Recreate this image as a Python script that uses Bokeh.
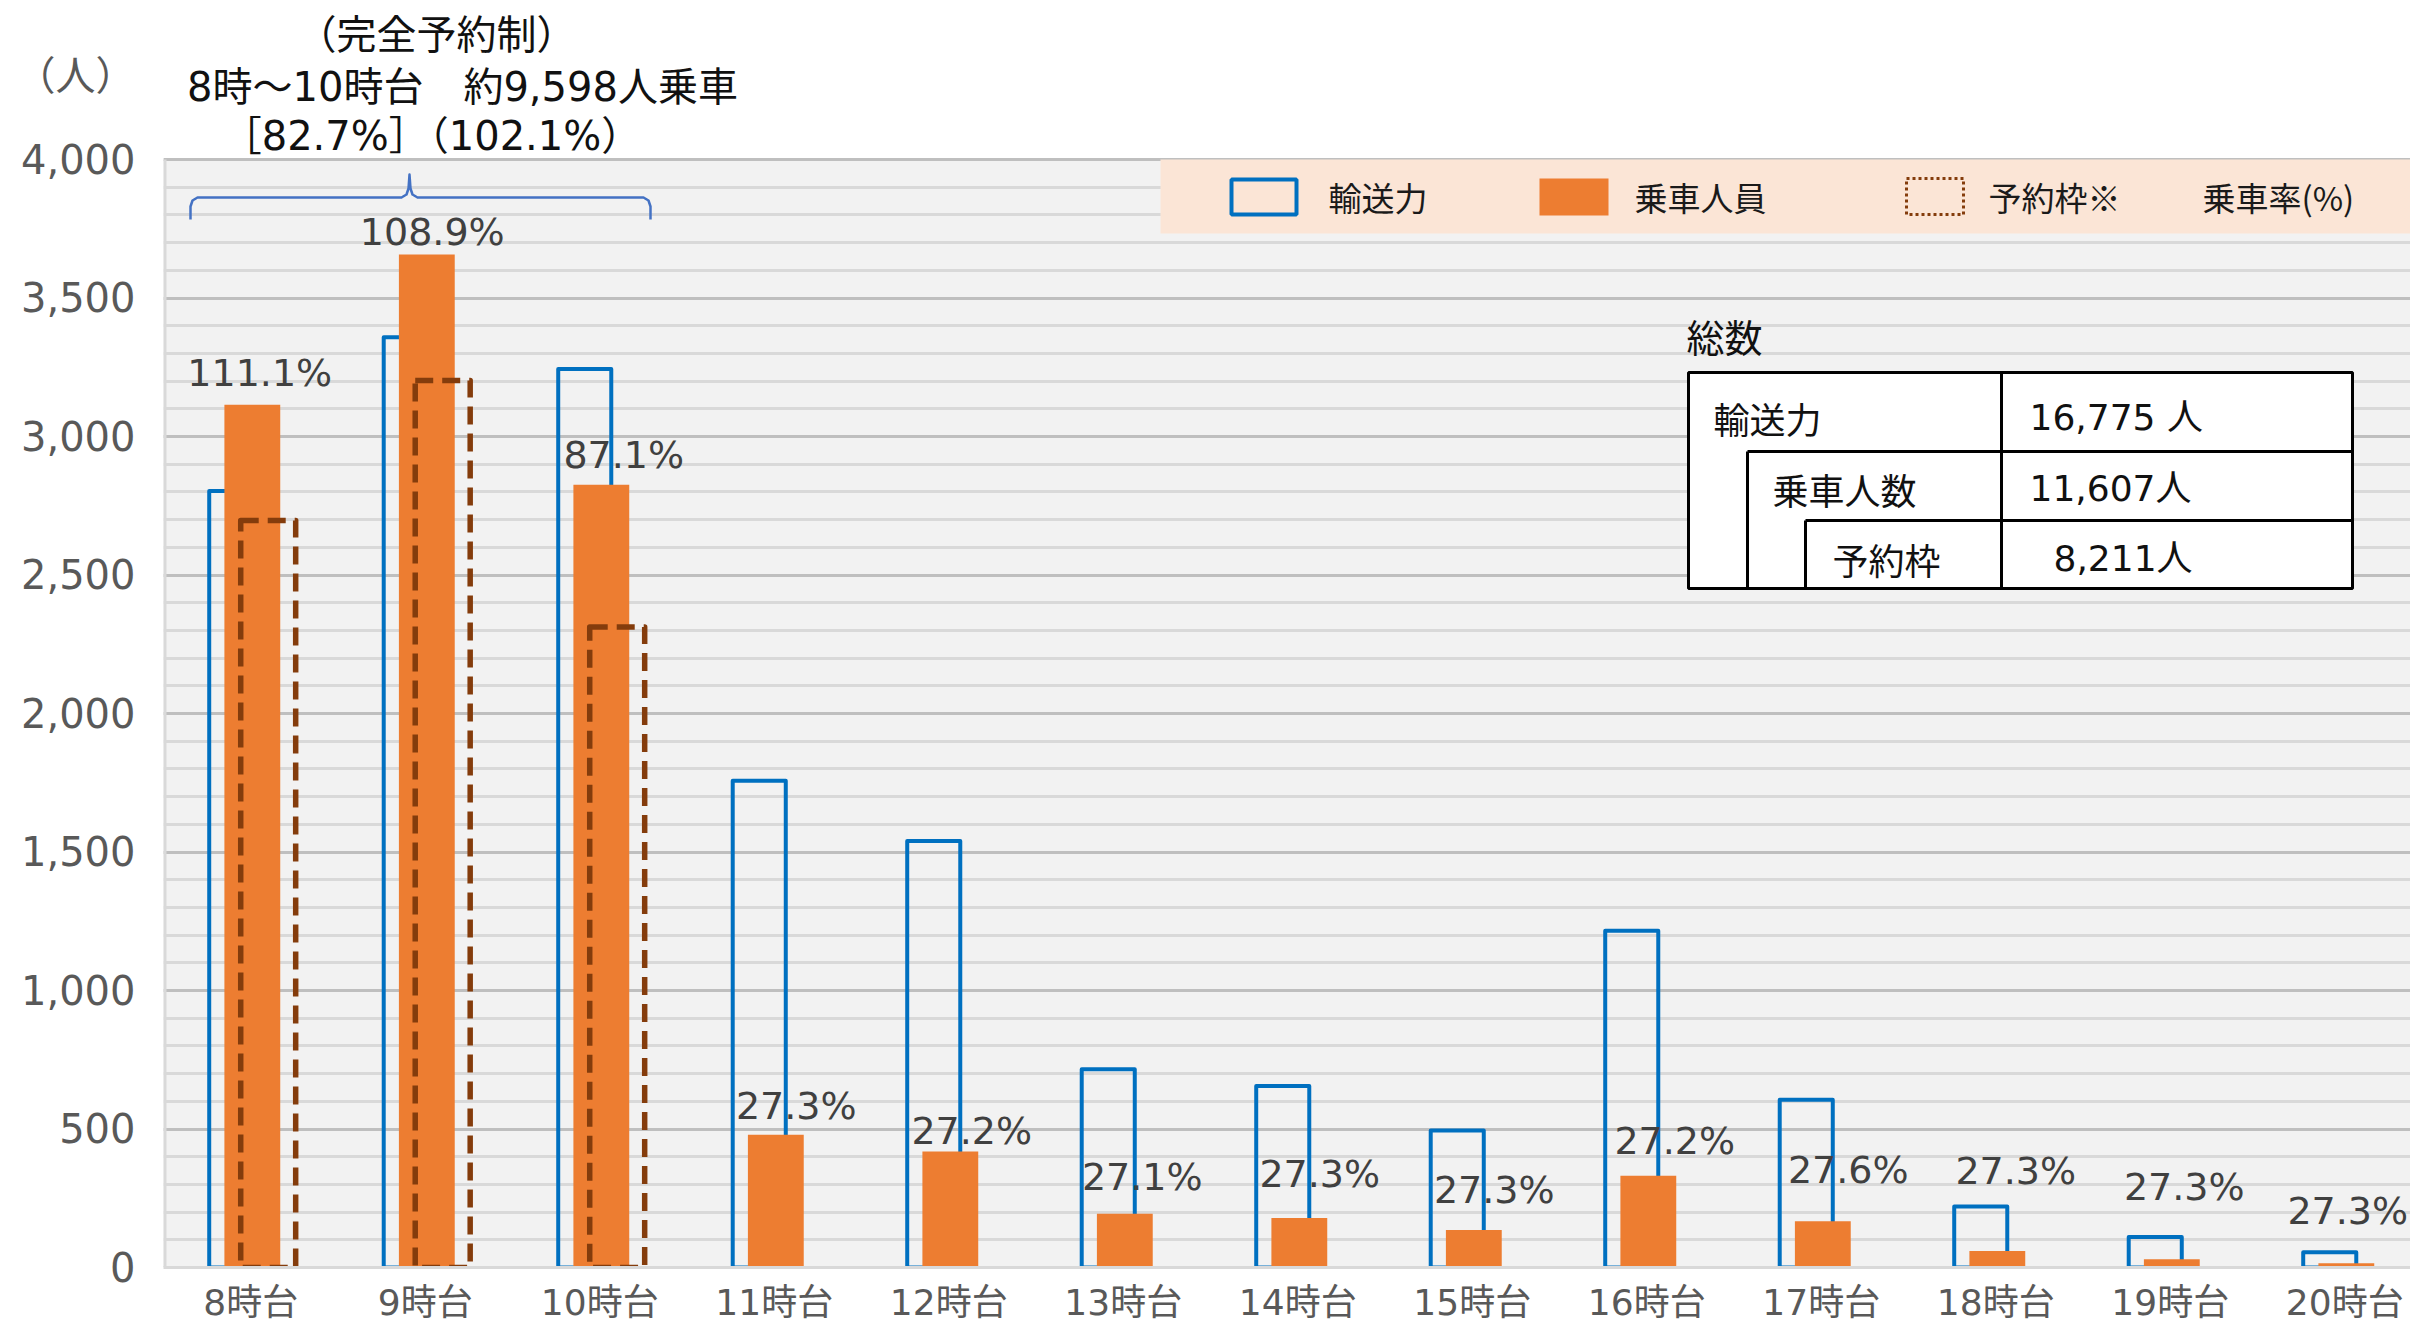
from bokeh.plotting import figure
from bokeh.models import (ColumnDataSource, Range1d, SingleIntervalTicker, FixedTicker,
                          CustomJSTickFormatter)
from bokeh.transform import dodge
from bokeh.core.properties import value
from bokeh.embed import file_html
from bokeh.resources import INLINE

# ---------------- data ----------------
categories = ["8時台", "9時台", "10時台", "11時台", "12時台", "13時台", "14時台",
              "15時台", "16時台", "17時台", "18時台", "19時台", "20時台"]
capacity = [2803, 3358, 3244, 1757, 1540, 716, 655, 495, 1216, 606, 220, 110, 55]   # 輸送力
riders = [3115, 3657, 2826, 479, 419, 194, 179, 135, 331, 167, 60, 30, 15]          # 乗車人員
reserved = [2697, 3202, 2312]                                                       # 予約枠 (8-10時台)
y_ticks = [0, 500, 1000, 1500, 2000, 2500, 3000, 3500, 4000]
y_unit = "（人）"
legend_labels = ["輸送力", "乗車人員", "予約枠※", "乗車率(%)"]
table_labels = ["輸送力", "乗車人数", "予約枠"]

# ---------------- layout helpers (page pixels -> data) ----------------
FIG_W, FIG_H = 2410, 1326
FRAME_L, FRAME_T, FRAME_B = 163, 159, 1267     # frame left, y of 4000, y of 0
CAT_W = 174.5
Y_MAX = 4000


def X(px):
    return -0.5 + (px - FRAME_L) / CAT_W


def Y(py):
    return (FRAME_B - py) * Y_MAX / (FRAME_B - FRAME_T)


BLUE = "#0070C0"
ORANGE = "#ED7D31"
BROWN = "#843C0C"
CJK = "Noto Sans CJK JP"
NUM = "DejaVu Sans"
MIX = "DejaVu Sans, Noto Sans CJK JP"

p = figure(width=FIG_W, height=FIG_H, output_backend="svg", toolbar_location=None,
           x_range=Range1d(-0.5, X(FIG_W)), y_range=Range1d(0, Y(0)),
           min_border_left=FRAME_L, min_border_top=0,
           min_border_right=0, min_border_bottom=FIG_H - FRAME_B,
           background_fill_color="white", border_fill_color="white")
p.outline_line_color = None

# plot-area background (below grid)
p.quad(left=-0.5, right=X(FIG_W) + 1, bottom=0, top=Y_MAX, fill_color="#F2F2F2",
       line_color=None, level="image")

# axes
p.xaxis.ticker = FixedTicker(ticks=list(range(len(categories))))
p.xaxis.formatter = CustomJSTickFormatter(
    args=dict(labels=categories),
    code="const i = Math.round(tick); return (labels[i] !== undefined) ? labels[i] : '';")
p.xaxis.major_tick_line_color = None
p.xaxis.minor_tick_line_color = None
p.xaxis.axis_line_color = "#D9D9D9"
p.xaxis.axis_line_width = 3
p.xaxis.major_label_text_font = MIX
p.xaxis.major_label_text_font_size = "36px"
p.xaxis.major_label_text_line_height = 1.0
p.xaxis.major_label_text_color = "#595959"
p.xaxis.major_label_standoff = 8
p.xgrid.grid_line_color = None

p.yaxis.ticker = FixedTicker(ticks=y_ticks + [Y(75)], minor_ticks=[])
p.yaxis.formatter = CustomJSTickFormatter(
    args=dict(unit=y_unit, top=Y_MAX),
    code="if (tick > top + 1) return unit; return Math.round(tick).toLocaleString('en-US');")
p.yaxis.major_tick_line_color = None
p.yaxis.minor_tick_line_color = None
p.yaxis.axis_line_color = None
p.yaxis.major_label_text_font = MIX
p.yaxis.major_label_text_font_size = "40px"
p.yaxis.major_label_text_color = "#595959"
p.yaxis.major_label_standoff = 22

p.ygrid.ticker = SingleIntervalTicker(interval=500, num_minor_ticks=5)
p.ygrid.bounds = (-1, Y_MAX + 1)
p.ygrid.grid_line_color = "#BFBFBF"
p.ygrid.grid_line_width = 3
p.ygrid.minor_grid_line_color = "#D9D9D9"
p.ygrid.minor_grid_line_width = 3

# left border of plot area
p.segment(x0=[-0.5], y0=[0], x1=[-0.5], y1=[Y_MAX], line_color="#D9D9D9", line_width=6)

# ---------------- bars ----------------
idx = list(range(len(categories)))
src = ColumnDataSource(dict(x=idx, cap=capacity, riders=riders))
p.vbar(x=dodge("x", -0.086, range=p.x_range), width=0.304, top="cap", source=src,
       fill_color=None, line_color=BLUE, line_width=4, line_join="round")
p.vbar(x=dodge("x", 0.009, range=p.x_range), width=0.32, top="riders", source=src,
       fill_color=ORANGE, line_color=None)
res_src = ColumnDataSource(dict(x=idx[:len(reserved)], res=reserved))
p.vbar(x=dodge("x", 0.1, range=p.x_range), width=0.315, top="res", source=res_src,
       fill_color=None, line_color=BROWN, line_width=5.5, line_dash="18 9", line_join="round")

# ---------------- ratio labels ----------------
pct_text = [f"{r / c * 100:.1f}%" for r, c in zip(riders, capacity)]
label_dx = [9, 7, 24, 22, 23, 19, 22, 22, 28, 27, 20, 14, 3]
label_dy = [-32, -23, -30, -29, -20, -37, -44, -40, -35, -51, -80, -72, -52]
lab_src = ColumnDataSource(dict(x=idx, y=riders, t=pct_text, dx=label_dx, dy=label_dy))
p.text(x="x", y="y", text="t", x_offset="dx", y_offset="dy", source=lab_src,
       text_align="center", text_baseline="middle", text_font=value(NUM),
       text_font_size="38px", text_color="#404040")


def put_text(txt, px, py, size, font=MIX, align="left", color="#111111"):
    p.text(x=[X(px)], y=[Y(py)], text=[txt], text_font=value(font), text_font_size=size,
           text_color=color, text_align=align, text_baseline="middle")


# ---------------- legend band ----------------
p.quad(left=X(1160), right=X(FIG_W) + 1, top=Y_MAX, bottom=Y(233),
       fill_color="#FBE5D6", line_color=None)
p.quad(left=X(1231), right=X(1296), top=Y(179), bottom=Y(214),
       fill_color=None, line_color=BLUE, line_width=4)
p.quad(left=X(1539), right=X(1608), top=Y(178), bottom=Y(215),
       fill_color=ORANGE, line_color=None)
p.quad(left=X(1906), right=X(1963), top=Y(178), bottom=Y(214),
       fill_color=None, line_color=BROWN, line_width=3, line_dash="3 3")
for txt, lx in zip(legend_labels, [1328, 1634, 1988, 2202]):
    put_text(txt, lx, 196, "33px", font=CJK, color="#1A1A1A")

# ---------------- brace over 8-10時台 ----------------
brace_px = [(190, 219), (190, 206), (192, 200), (197, 197), (401, 197), (406, 194),
            (408, 188), (409, 174), (410, 188), (412, 194), (417, 197), (643, 197),
            (648, 200), (650, 206), (650, 219)]
p.line([X(a) for a, b in brace_px], [Y(b) for a, b in brace_px],
       line_color="#4472C4", line_width=2.5, line_join="round")

# ---------------- header texts ----------------
peak = sum(riders[:3])
put_text("（完全予約制）", 436, 34, "40px", align="center")
put_text(f"8時～10時台　約{peak:,}人乗車", 462, 86, "40px", align="center")
put_text(f"［{peak / sum(riders) * 100:.1f}%］（{peak / sum(capacity[:3]) * 100:.1f}%）",
         431, 135, "40px", align="center")

# ---------------- totals table ----------------
put_text("総数", 1686, 335, "38px", font=CJK)
p.quad(left=X(1688), right=X(2352), top=Y(372), bottom=Y(588),
       fill_color="white", line_color="black", line_width=3)
seg_px = [(2001, 372, 2001, 588), (1747, 451, 2352, 451), (1747, 451, 1747, 588),
          (1805, 520, 2352, 520), (1805, 520, 1805, 588)]
p.segment(x0=[X(s[0]) for s in seg_px], y0=[Y(s[1]) for s in seg_px],
          x1=[X(s[2]) for s in seg_px], y1=[Y(s[3]) for s in seg_px],
          line_color="black", line_width=3)
totals = [f"{sum(capacity):,} 人", f"{sum(riders):,}人", f"{sum(reserved):,}人"]
for txt, tx, ty in zip(table_labels, [1713, 1772, 1832], [417, 488, 558]):
    put_text(txt, tx, ty, "36px", font=CJK)
for txt, vx, ty in zip(totals, [2029, 2029, 2053], [417, 488, 558]):
    put_text(txt, vx, ty, "36px")

open("out.html", "w").write(file_html(p, INLINE))
